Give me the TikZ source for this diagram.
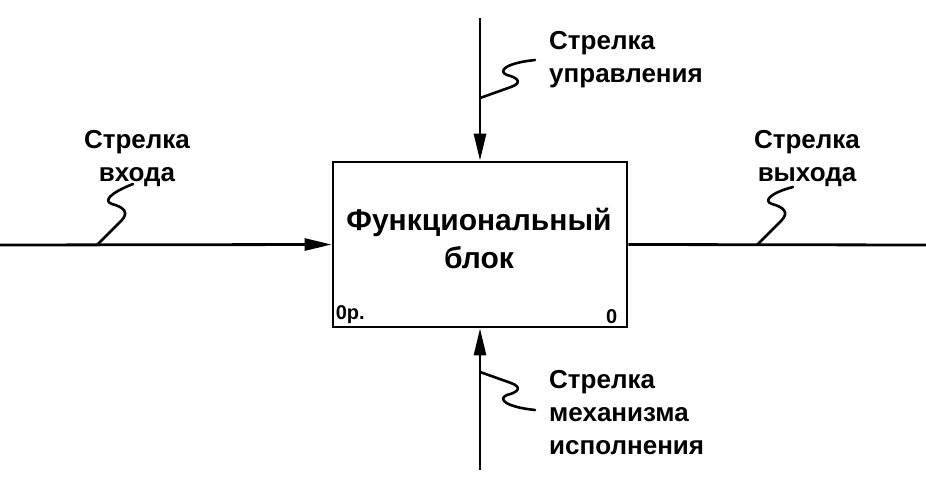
\documentclass[tikz,border=0pt]{standalone}
\usepackage{fontspec}
\setmainfont{Liberation Sans}
\usetikzlibrary{arrows.meta}
\begin{document}
\begin{tikzpicture}[x=1pt,y=-1pt,
  arr/.style={line width=2.8pt,-{Triangle[length=27pt,width=12pt]}},
  ln/.style={line width=2.8pt},
  sq/.style={line width=2.6pt,line cap=round,line join=round},
  lbl/.style={font=\bfseries\fontsize{26}{33}\selectfont,inner sep=0pt},
  corner/.style={font=\bfseries\fontsize{20}{24}\selectfont,inner sep=0pt}]
\useasboundingbox (0,0) rectangle (926,489);
\node[draw,line width=2.8pt,minimum width=294pt,minimum height=165pt,inner sep=0pt] (fb) at (480,244.5) {};
\node[align=center,inner sep=0pt,font=\bfseries\fontsize{30}{38}\selectfont] (fbt) at (479,238)
  {Функциональный\\блок};
\node[corner,anchor=south west] (c0p) at ([shift={(4pt,5pt)}]fb.south west) {0р.};
\node[corner,anchor=south east] (c0) at ([shift={(-11pt,5pt)}]fb.south east) {0};
% coordinates for free ends
\coordinate (inL) at (0,245);
\coordinate (outR) at (926,245);
\coordinate (ctlT) at (480,18);
\coordinate (mechB) at (480,470);
\draw[arr] (inL) -- (fb.west);
\draw[ln] (fb.east) -- (outR);
\draw[arr] (ctlT) -- (fb.north);
\draw[arr] (mechB) -- (fb.south);
% junction points
\coordinate (jIn) at (97,245);
\coordinate (jOut) at (757,245);
\coordinate (jCtl) at (480,98);
\coordinate (jMech) at (480,372);
% squiggles
\draw[sq] (jIn) -- (121,221) .. controls (130,212) and (123,207) .. (112,204)
  .. controls (103,201) and (110,193) .. (133,184);
\draw[sq] (jOut) -- (781,221) .. controls (790,212) and (783,207) .. (772,204)
  .. controls (763,201) and (770,193) .. (793,187);
\draw[sq] (jCtl) -- (511,87) .. controls (522,83) and (519,78) .. (507,75)
  .. controls (497,71) and (506,63) .. (535,60);
\draw[sq] (jMech) -- (511,383) .. controls (522,387) and (519,392) .. (507,395)
  .. controls (497,399) and (506,407) .. (535,410);
% labels
\node[lbl,align=center] (lIn) at (137,159) {Стрелка\\входа};
\node[lbl,align=center] (lOut) at (807,159) {Стрелка\\выхода};
\node[lbl,align=left,anchor=west] (lCtl) at (549,60) {Стрелка\\управления};
\node[lbl,align=left,anchor=west] (lMech) at (549,413) {Стрелка\\механизма\\исполнения};
\end{tikzpicture}
\end{document}
